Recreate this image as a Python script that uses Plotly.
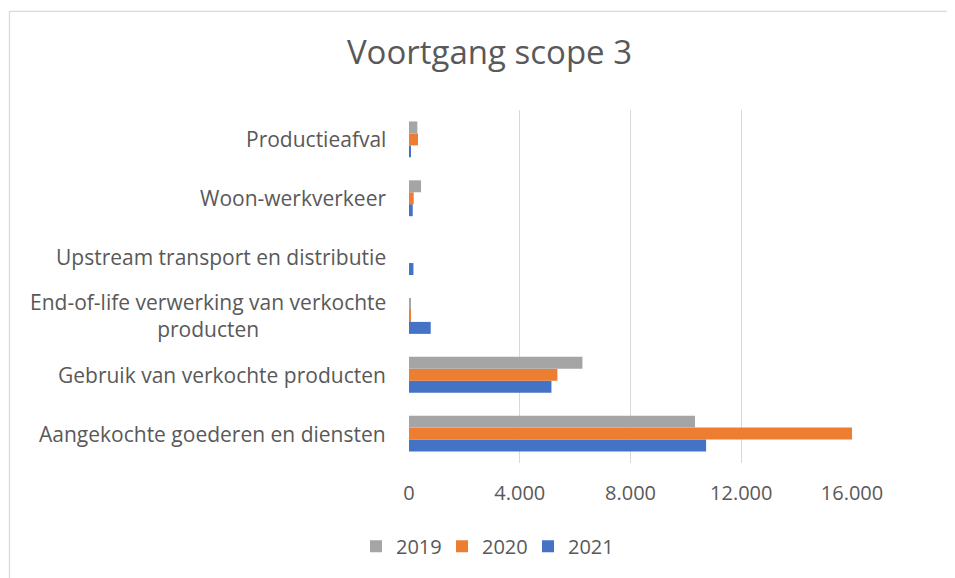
import plotly.graph_objects as go

categories = [
    "Aangekochte goederen en diensten",
    "Gebruik van verkochte producten",
    "End-of-life verwerking van verkochte<br>producten",
    "Upstream transport en distributie",
    "Woon-werkverkeer",
    "Productieafval",
]
years = ["2019", "2020", "2021"]
values_2019 = [10330, 6265, 60, 0, 435, 300]
values_2020 = [16000, 5360, 50, 0, 170, 325]
values_2021 = [10730, 5145, 785, 160, 135, 60]
tick_vals = [0, 4000, 8000, 12000, 16000]
tick_text = ["0", "4.000", "8.000", "12.000", "16.000"]

colors = {"2019": "#A5A5A5", "2020": "#ED7D31", "2021": "#4472C4"}
series = {"2019": values_2019, "2020": values_2020, "2021": values_2021}

# page has an 8px body margin; figure sized so it fits the window
W, H = 947, 570
L, R, T, B = 401, 103, 101.5, 114.5
pw, ph = W - L - R, H - T - B

FONT = "Open Sans"
TXT = "#595959"

fig = go.Figure()
for yr in ["2021", "2020", "2019"]:
    fig.add_trace(go.Bar(
        y=categories, x=series[yr], name=yr, orientation="h",
        marker=dict(color=colors[yr], line=dict(width=0)),
    ))

for c in categories:
    fig.add_annotation(
        x=0, y=c, xref="paper", yref="y", text=c, showarrow=False,
        xanchor="right", yanchor="middle", xshift=-21, align="center",
        font=dict(family=FONT, size=21, color=TXT),
    )

fig.add_shape(
    type="rect", xref="paper", yref="paper",
    x0=(1.5 - L) / pw, x1=(W + 20 - L) / pw,
    y0=(H - B - (H + 20)) / ph, y1=(H - B - 2.5) / ph,
    line=dict(color="#D9D9D9", width=1.3), fillcolor="rgba(0,0,0,0)", layer="below",
)

fig.update_layout(
    width=W, height=H,
    margin=dict(l=L, r=R, t=T, b=B, autoexpand=False),
    paper_bgcolor="white", plot_bgcolor="white",
    barmode="group", bargap=0.39, bargroupgap=0,
    title=dict(text="Voortgang scope 3", x=481.5 / W, xanchor="center", xref="container",
               y=1 - 44 / H, yanchor="middle",
               font=dict(family=FONT, size=33, color=TXT)),
    xaxis=dict(range=[0, 16000], tickvals=tick_vals, ticktext=tick_text,
               showgrid=True, gridcolor="#D9D9D9", gridwidth=1.3,
               zeroline=False, showline=False, ticks="", ticklabelstandoff=16,
               tickfont=dict(family=FONT, size=20, color=TXT)),
    yaxis=dict(categoryorder="array", categoryarray=categories,
               showticklabels=False, showgrid=False, zeroline=False, ticks=""),
    legend=dict(orientation="h", x=(348 - L) / pw, xanchor="left",
                y=(H - B - 539) / ph, yanchor="middle", traceorder="reversed",
                font=dict(family=FONT, size=20, color=TXT),
                entrywidth=41, entrywidthmode="pixels"),
    showlegend=True,
)

fig.write_html("out.html")
